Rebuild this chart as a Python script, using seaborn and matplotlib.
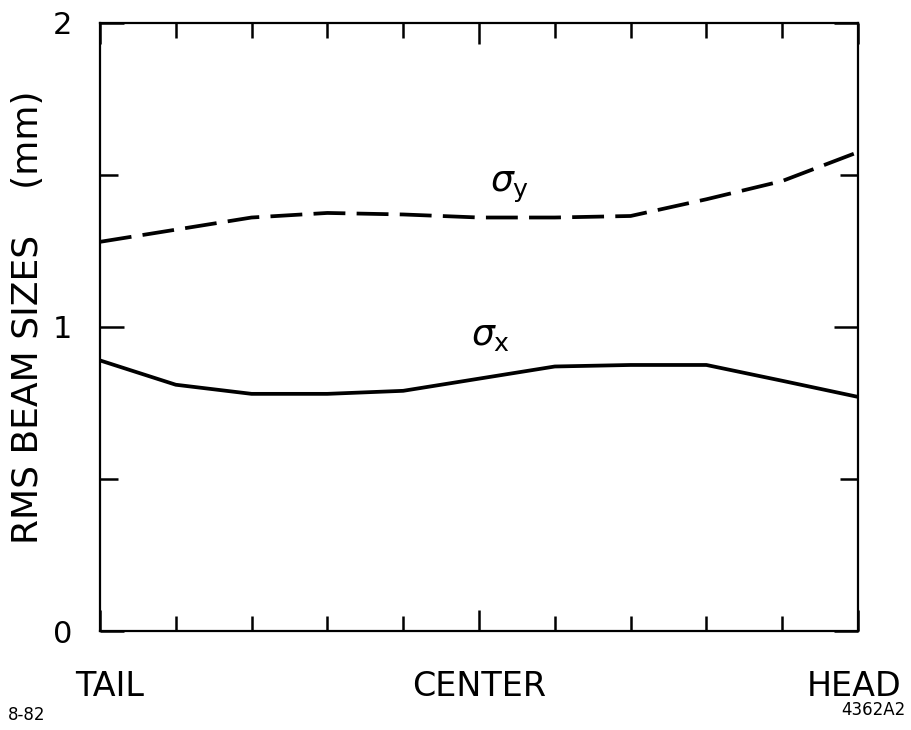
import matplotlib
matplotlib.use("Agg")
import matplotlib.pyplot as plt
import matplotlib.transforms as mtransforms
import numpy as np
import pandas as pd
import seaborn as sns

# position along the bunch, tail (0) to head (10)
position = [0, 1, 2, 3, 4, 5, 6, 7, 8, 9, 10]
sigma_x = [0.89, 0.81, 0.78, 0.78, 0.79, 0.83, 0.87, 0.875, 0.875, 0.823, 0.77]
sigma_y = [1.28, 1.32, 1.36, 1.375, 1.37, 1.36, 1.36, 1.365, 1.42, 1.48, 1.575]

x_labels = ["TAIL", "CENTER", "HEAD"]
y_labels = ["0", "1", "2"]

df = pd.DataFrame({
    "position": position * 2,
    "size": sigma_x + sigma_y,
    "series": ["x"] * len(position) + ["y"] * len(position),
})

sns.set_style("ticks")
plt.rcParams["font.family"] = ["DejaVu Sans"]
plt.rcParams.update({"text.color": "black", "axes.labelcolor": "black",
                     "xtick.color": "black", "ytick.color": "black"})

fig = plt.figure(figsize=(9.12, 7.3), dpi=100)
ax = fig.add_axes([0.1096, 0.1356, 0.8312, 0.833])

sns.lineplot(data=df, x="position", y="size", style="series",
             dashes={"x": "", "y": (8.5, 3)}, color="black", linewidth=2.7,
             legend=False, ax=ax)

ax.set_xlim(0, 10)
ax.set_ylim(0, 2)

# ticks inward on all four sides, longer at labelled positions
ax.set_xticks([0, 5, 10])
ax.set_xticks(np.arange(0, 11, 1), minor=True)
ax.set_xticklabels(x_labels)
ax.set_yticks([0, 1, 2])
ax.set_yticks([0.5, 1.5], minor=True)
ax.set_yticklabels(y_labels)

ax.tick_params(which="both", direction="in", top=True, right=True,
               width=1.8, color="black", labelcolor="black")
ax.tick_params(axis="x", which="major", length=15, pad=28, labelsize=24)
ax.tick_params(axis="x", which="minor", length=11)
ax.tick_params(axis="y", which="major", length=17, pad=20, labelsize=22)
ax.tick_params(axis="y", which="minor", length=13)

for s in ax.spines.values():
    s.set_visible(True)
    s.set_linewidth(1.6)
    s.set_color("black")

# nudge end labels like the original lettering
xt = ax.get_xticklabels()
xt[0].set_transform(xt[0].get_transform() + mtransforms.ScaledTranslation(10 / 100, 0, fig.dpi_scale_trans))
xt[2].set_transform(xt[2].get_transform() + mtransforms.ScaledTranslation(-4 / 100, 0, fig.dpi_scale_trans))

ax.set_xlabel("")
ax.set_ylabel("RMS BEAM SIZES    (mm)", fontsize=26, color="black")
ax.yaxis.set_label_coords(-0.072, 0.516)

ax.text(5.4, 1.46, r"$\sigma_\mathregular{y}$", fontsize=26, ha="center", va="center")
ax.text(5.15, 0.97, r"$\sigma_\mathregular{x}$", fontsize=26, ha="center", va="center")

fig.text(8 / 912, 1 - 715 / 730, "8-82", fontsize=12, ha="left", va="center")
fig.text(906 / 912, 1 - 710 / 730, "4362A2", fontsize=12, ha="right", va="center")

fig.savefig("out.png", dpi=100, facecolor="white")
